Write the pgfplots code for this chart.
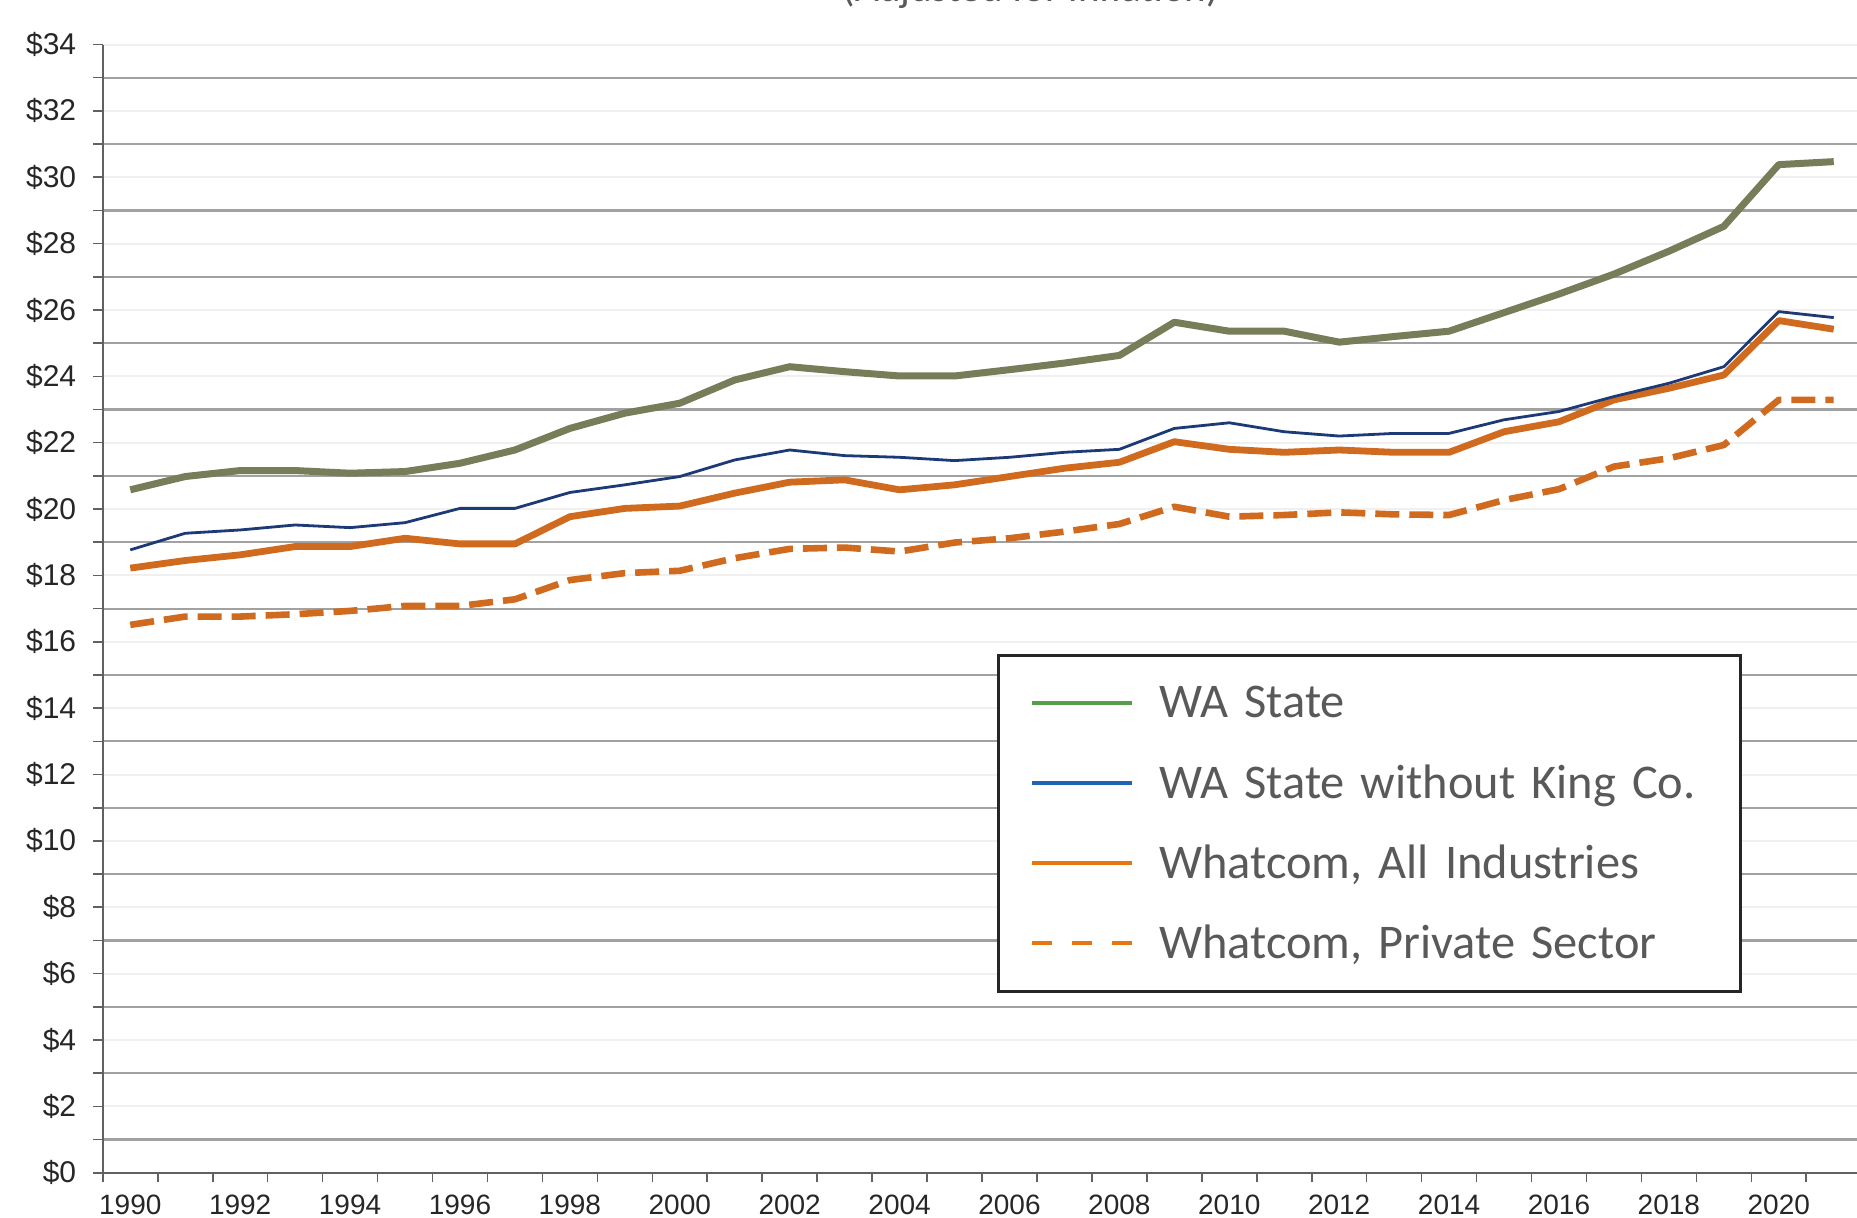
\documentclass[border=0pt]{standalone}
\usepackage{pgfplots}
\usepackage{pgfplotstable}
\pgfplotsset{compat=1.18}
\usepackage{fontspec}
\setmainfont{Liberation Sans}
\newfontfamily\carlito{Carlito}
\definecolor{olivel}{RGB}{118,125,88}
\definecolor{navyl}{RGB}{28,58,118}
\definecolor{orangel}{RGB}{208,106,30}
\definecolor{leggreen}{RGB}{88,155,75}
\definecolor{legblue}{RGB}{32,100,180}
\definecolor{legorange}{RGB}{232,118,16}
\definecolor{legtext}{RGB}{89,89,89}
\pgfplotstableread{
year wa nok wall wpriv
1990 20.58 18.77 18.22 16.51
1991 20.98 19.27 18.45 16.76
1992 21.16 19.37 18.62 16.76
1993 21.16 19.52 18.87 16.83
1994 21.08 19.44 18.87 16.93
1995 21.13 19.59 19.12 17.08
1996 21.38 20.02 18.95 17.08
1997 21.78 20.02 18.95 17.28
1998 22.43 20.50 19.77 17.86
1999 22.89 20.73 20.02 18.07
2000 23.19 20.98 20.09 18.14
2001 23.89 21.48 20.48 18.52
2002 24.29 21.78 20.81 18.80
2003 24.14 21.61 20.88 18.84
2004 24.01 21.56 20.58 18.72
2005 24.01 21.46 20.73 18.99
2006 24.20 21.56 20.98 19.12
2007 24.40 21.71 21.23 19.32
2008 24.63 21.80 21.41 19.55
2009 25.63 22.43 22.03 20.07
2010 25.36 22.60 21.80 19.77
2011 25.36 22.33 21.71 19.82
2012 25.03 22.20 21.78 19.90
2013 25.20 22.28 21.71 19.84
2014 25.36 22.28 21.71 19.82
2015 25.92 22.69 22.33 20.27
2016 26.48 22.94 22.63 20.60
2017 27.08 23.39 23.29 21.28
2018 27.77 23.79 23.64 21.53
2019 28.52 24.29 24.04 21.93
2020 30.38 25.95 25.68 23.29
2021 30.47 25.77 25.42 23.29
}\wages
\begin{document}
\begin{tikzpicture}
\useasboundingbox (-51.4pt,-22.15pt) rectangle (877.1pt,586.35pt);
\clip (-51.4pt,-22.15pt) rectangle (877.1pt,586.35pt);
\begin{axis}[
  at={(0pt,0pt)}, anchor=south west,
  scale only axis,
  width=877.1pt, height=564.1pt,
  xmin=1989.5, xmax=2021.424,
  ymin=0, ymax=34,
  axis x line=bottom, axis y line=left,
  axis line style={-, draw=black!62, line width=1pt},
  xtick={1990,1992,1994,1996,1998,2000,2002,2004,2006,2008,2010,2012,2014,2016,2018,2020},
  xticklabels={1990,1992,1994,1996,1998,2000,2002,2004,2006,2008,2010,2012,2014,2016,2018,2020},
  minor xtick={1989.5,1990.5,...,2020.5},
  ytick={0,2,...,34},
  yticklabels={\$0,\$2,\$4,\$6,\$8,\$10,\$12,\$14,\$16,\$18,\$20,\$22,\$24,\$26,\$28,\$30,\$32,\$34},
  minor ytick={1,3,...,33},
  tick align=outside,
  major tick length=5pt, minor tick length=4.8pt,
  tick style={draw=black!62, line width=0.8pt},
  major x tick style={draw=none},
  ymajorgrids, yminorgrids, xmajorgrids=false, xminorgrids=false,
  major grid style={draw=black!6, line width=1pt},
  minor grid style={draw=black!37, line width=1.1pt},
  tick label style={text=black!85},
  xticklabel style={font=\fontsize{14}{16}\selectfont, yshift=-2.4pt},
  yticklabel style={font=\fontsize{15}{17}\selectfont, xshift=-4.8pt},
  title={(Adjusted for inflation)},
  title style={at={(0.5291,1.02766)}, anchor=base, inner sep=0pt,
    font=\carlito\fontsize{20.5}{24}\selectfont, text=legtext},
  legend image code/.code={\draw[#1] (0pt,0pt) -- (50pt,0pt);},
  legend cell align=left,
  legend style={at={(0.5098,0.4598)}, anchor=north west,
    draw=black!85, line width=1.3pt, fill=white,
    inner xsep=16pt, inner ysep=4pt, row sep=0pt,
    font=\carlito\fontsize{24.2}{29}\selectfont, text=legtext,
    nodes={inner sep=0pt, minimum height=40pt, text width=274.5pt, align=left},
    /tikz/every odd column/.append style={column sep=12.5pt}},
]
\addplot[forget plot, color=olivel, line width=3.5pt, line join=round] table[x=year, y=wa] {\wages};
\addplot[forget plot, color=orangel, line width=3.3pt, dash pattern=on 12pt off 5pt, line join=round] table[x=year, y=wpriv] {\wages};
\addplot[forget plot, color=orangel, line width=3.4pt, line join=round] table[x=year, y=wall] {\wages};
\addplot[forget plot, color=navyl, line width=1.4pt, line join=round] table[x=year, y=nok] {\wages};
\addlegendimage{color=leggreen, line width=2pt}
\addlegendentry{WA State}
\addlegendimage{color=legblue, line width=2pt}
\addlegendentry{WA State without King Co.}
\addlegendimage{color=legorange, line width=2pt}
\addlegendentry{Whatcom, All Industries}
\addlegendimage{color=legorange, line width=2pt, dash pattern=on 10pt off 10pt}
\addlegendentry{Whatcom, Private Sector}
\end{axis}
\end{tikzpicture}
\end{document}
